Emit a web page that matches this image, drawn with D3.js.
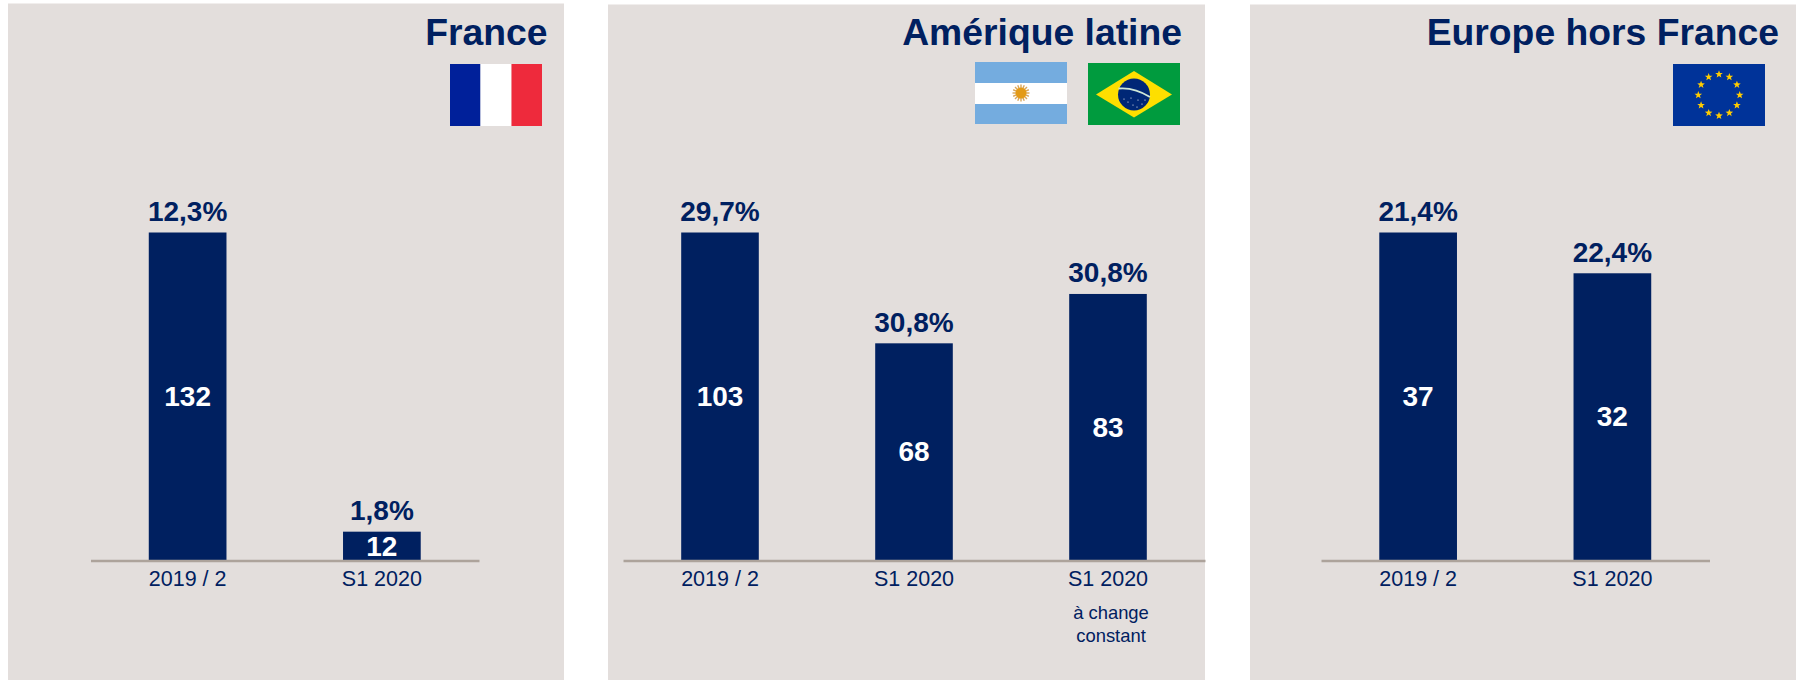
<!DOCTYPE html>
<html><head><meta charset="utf-8">
<script src="https://cdn.jsdelivr.net/npm/d3@7"></script>
<style>
html,body{margin:0;padding:0;background:#fff;overflow:hidden}
svg{display:block}
text{font-family:"Liberation Sans",Arial,sans-serif}
.tick text{font-family:"Liberation Sans",Arial,sans-serif}
</style></head><body>
<svg id="c" width="1796" height="680"></svg>
<script>
// Data
const panelTitles = ["France", "Amérique latine", "Europe hors France"];
const franceCategories = ["2019 / 2", "S1 2020"];
const franceValues = [132, 11.6];
const franceValueLabels = ["132", "12"];
const franceRates = ["12,3%", "1,8%"];
const latamCategories = ["2019 / 2", "S1 2020", "S1 2020 "];
const latamValues = [103, 68.2, 83.7];
const latamValueLabels = ["103", "68", "83"];
const latamRates = ["29,7%", "30,8%", "30,8%"];
const europeCategories = ["2019 / 2", "S1 2020"];
const europeValues = [37, 32.4];
const europeValueLabels = ["37", "32"];
const europeRates = ["21,4%", "22,4%"];
const noteLines = ["à change", "constant"];

const NAVY = "#002060", BG = "#e3dedc", AXIS = "#ada39b";
const svg = d3.select("#c");
const baseY = 560.5, topY = 232.5;

function panel(cfg) {
  const g = svg.append("g");
  g.append("rect").attr("x", cfg.bg[0]).attr("y", cfg.top).attr("width", cfg.bg[1] - cfg.bg[0])
    .attr("height", 680 - cfg.top).attr("fill", BG);
  g.append("text").attr("x", cfg.titleX).attr("y", 45).attr("text-anchor", "end")
    .attr("font-size", 37.3).attr("font-weight", 700).attr("fill", NAVY).text(cfg.title);

  const x = d3.scaleBand().domain(cfg.cats).range(cfg.axis).paddingInner(0.6).paddingOuter(0.3);
  const y = d3.scaleLinear().domain([0, d3.max(cfg.vals)]).range([baseY, topY]);
  const rows = cfg.cats.map((c, i) => ({c, v: cfg.vals[i], l: cfg.labels[i], r: cfg.rates[i]}));

  g.selectAll(".bar").data(rows).join("rect").attr("class", "bar")
    .attr("x", d => x(d.c)).attr("width", x.bandwidth())
    .attr("y", d => y(d.v)).attr("height", d => y(0) - y(d.v)).attr("fill", NAVY);

  const ax = g.append("g").attr("transform", `translate(0,${baseY})`)
    .call(d3.axisBottom(x).tickSize(0).tickPadding(10).tickFormat(d => d.trim()));
  ax.select(".domain").attr("stroke", AXIS).attr("stroke-width", 2.5);
  ax.selectAll("text").attr("font-size", 21.5).attr("fill", NAVY).attr("font-family", '"Liberation Sans"');

  g.selectAll(".rate").data(rows).join("text").attr("class", "rate")
    .attr("x", d => x(d.c) + x.bandwidth() / 2).attr("y", d => y(d.v) - 11.5)
    .attr("text-anchor", "middle").attr("font-size", 28).attr("font-weight", 700)
    .attr("fill", NAVY).text(d => d.r);

  g.selectAll(".val").data(rows).join("text").attr("class", "val")
    .attr("x", d => x(d.c) + x.bandwidth() / 2).attr("y", d => (y(d.v) + y(0)) / 2 + 9.5)
    .attr("text-anchor", "middle").attr("font-size", 28).attr("font-weight", 700)
    .attr("fill", "#fff").text(d => d.l);
  return x;
}

panel({title: panelTitles[0], bg: [8, 564], top: 3.5, titleX: 547.5, axis: [90.5, 479],
  cats: franceCategories, vals: franceValues, labels: franceValueLabels, rates: franceRates});
const xL = panel({title: panelTitles[1], bg: [608, 1205], top: 4.5, titleX: 1182, axis: [623, 1205],
  cats: latamCategories, vals: latamValues, labels: latamValueLabels, rates: latamRates});
panel({title: panelTitles[2], bg: [1250, 1796], top: 4.5, titleX: 1779, axis: [1321, 1709.5],
  cats: europeCategories, vals: europeValues, labels: europeValueLabels, rates: europeRates});

// Note under the third Latin America bar
svg.selectAll(".note").data(noteLines).join("text").attr("class", "note")
  .attr("x", xL("S1 2020 ") + xL.bandwidth() / 2 + 3).attr("y", (d, i) => 619 + i * 22.5)
  .attr("text-anchor", "middle").attr("font-size", 18.4).attr("fill", NAVY).text(d => d);

// Flags
function starPath(cx, cy, r) {
  const p = d3.range(10).map(i => {
    const a = -Math.PI / 2 + i * Math.PI / 5, q = i % 2 ? r * 0.42 : r;
    return [cx + q * Math.cos(a), cy + q * Math.sin(a)];
  });
  return "M" + p.join("L") + "Z";
}
// France
const fr = svg.append("g");
[["#00209a", 450, 30.5], ["#ffffff", 480.5, 31], ["#ee2a3c", 511.5, 30.5]].forEach(s =>
  fr.append("rect").attr("x", s[1]).attr("y", 64).attr("width", s[2]).attr("height", 62).attr("fill", s[0]));
// Argentina
const ar = svg.append("g");
ar.append("rect").attr("x", 975).attr("y", 62).attr("width", 92).attr("height", 62).attr("fill", "#74acdf");
ar.append("rect").attr("x", 975).attr("y", 83).attr("width", 92).attr("height", 21).attr("fill", "#fff");
d3.range(16).forEach(i => {
  const a = i * Math.PI / 8;
  ar.append("line").attr("x1", 1021 + 5 * Math.cos(a)).attr("y1", 93 + 5 * Math.sin(a))
    .attr("x2", 1021 + 8.5 * Math.cos(a)).attr("y2", 93 + 8.5 * Math.sin(a))
    .attr("stroke", "#d9a65a").attr("stroke-width", 1.4);
});
ar.append("circle").attr("cx", 1021).attr("cy", 93).attr("r", 5.5).attr("fill", "#e39a16");
// Brazil
const br = svg.append("g");
br.append("rect").attr("x", 1088).attr("y", 63).attr("width", 92).attr("height", 62).attr("fill", "#009b3e");
br.append("path").attr("d", "M1096,94.5L1134,71L1172,94.5L1134,117.5Z").attr("fill", "#fedf00");
br.append("circle").attr("cx", 1134).attr("cy", 94.5).attr("r", 16).attr("fill", "#002776");
br.append("path").attr("d", "M1118.5,88.5Q1134,87 1150,97").attr("fill", "none").attr("stroke", "#cfe8d8").attr("stroke-width", 1.8);
[[1128,102],[1133,105],[1138,100],[1142,104],[1131,98],[1137,107],[1124,99],[1145,100]].forEach(s =>
  br.append("circle").attr("cx", s[0]).attr("cy", s[1]).attr("r", 0.6).attr("fill", "#fff"));
// EU
const eu = svg.append("g");
eu.append("rect").attr("x", 1673).attr("y", 64).attr("width", 92).attr("height", 62).attr("fill", "#003399");
d3.range(12).forEach(i => {
  const a = i * Math.PI / 6;
  eu.append("path").attr("d", starPath(1719 + 20.7 * Math.sin(a), 95 - 20.7 * Math.cos(a), 4)).attr("fill", "#ffcc00");
});
</script></body></html>
